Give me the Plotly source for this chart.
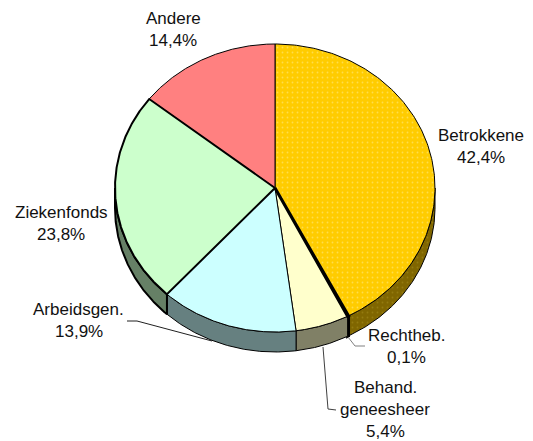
import numpy as np
import plotly.graph_objects as go

categories = ["Betrokkene", "Rechtheb.", "Behand. geneesheer", "Arbeidsgen.", "Ziekenfonds", "Andere"]
values = [42.4, 0.1, 5.4, 13.9, 23.8, 14.4]
top_colors = ["#FFCC00", "#000000", "#FFFFCC", "#CCFFFF", "#CCFFCC", "#FF8080"]
side_colors = ["#806600", "#000000", "#808066", "#668080", "#668066", "#804040"]
outline_widths = [1, 3, 1, 1, 2, 1]

label_lines = [["Betrokkene"], ["Rechtheb."], ["Behand.", "geneesheer"], ["Arbeidsgen."], ["Ziekenfonds"], ["Andere"]]
label_pos = [(481, 135), (406.5, 335), (385, 387), (78.5, 309), (61, 212), (173, 18)]
LINE_H = 22

leaders = {
    "Rechtheb.": ([348, 355, 365], [337, 346, 346], "#808080"),
    "Behand. geneesheer": ([323, 328, 336], [347, 409, 410], "#404040"),
    "Arbeidsgen.": ([127, 137, 212], [321, 321, 341], "#202020"),
}

CX, CY, RX, RY, DEPTH = 275, 188, 160, 144, 20


def pt(frac):
    a = 2 * np.pi * np.asarray(frac)
    return CX + RX * np.sin(a), CY - RY * np.cos(a)


fig = go.Figure()
edges = np.cumsum([0] + values) / sum(values)

# side wall: only the front half of the disc is visible
for i, name in enumerate(categories):
    a, b = max(edges[i], 0.25), min(edges[i + 1], 0.75)
    if b <= a:
        continue
    fr = np.linspace(a, b, 120)
    x, y = pt(fr)
    px = np.r_[x, x[::-1], x[0]]
    py = np.r_[y, y[::-1] + DEPTH, y[0]]
    kw = {}
    if i == 0:
        kw["fillpattern"] = dict(shape=".", fgcolor="#A89020", bgcolor=side_colors[i], size=5, solidity=0.1)
    fig.add_trace(go.Scatter(x=px, y=py, mode="lines", fill="toself", fillcolor=side_colors[i],
                             line=dict(color="black", width=outline_widths[i]), hoverinfo="skip", **kw))

# top face
for i in [0, 2, 3, 5, 4, 1]:
    fr = np.linspace(edges[i], edges[i + 1], 200)
    x, y = pt(fr)
    px = np.r_[CX, x, CX]
    py = np.r_[CY, y, CY]
    kw = {}
    if i == 0:
        kw["fillpattern"] = dict(shape=".", fgcolor="#FFEE99", bgcolor=top_colors[i], size=5, solidity=0.1)
    fig.add_trace(go.Scatter(x=px, y=py, mode="lines", fill="toself", fillcolor=top_colors[i],
                             line=dict(color="black", width=outline_widths[i]), name=categories[i],
                             hoverinfo="skip", **kw))

# leader lines
for name, (lx, ly, col) in leaders.items():
    fig.add_trace(go.Scatter(x=lx, y=ly, mode="lines", line=dict(color=col, width=1), hoverinfo="skip"))

# labels
font = dict(family="Liberation Sans, Arial, sans-serif", size=17, color="#111111")
for lines, v, (lx, ly) in zip(label_lines, values, label_pos):
    texts = lines + [f"{v:.1f}%".replace(".", ",")]
    for k, t in enumerate(texts):
        fig.add_annotation(x=lx, y=ly + k * LINE_H, text=t, showarrow=False, font=font,
                           xanchor="center", yanchor="middle")

fig.update_layout(
    width=533, height=441, margin=dict(l=0, r=0, t=0, b=0),
    paper_bgcolor="white", plot_bgcolor="white", showlegend=False,
    xaxis=dict(range=[0, 533], visible=False, fixedrange=True),
    yaxis=dict(range=[441, 0], visible=False, fixedrange=True),
)
fig.write_html("out.html", config={"displayModeBar": False},
               post_script="document.body.style.margin='0';document.body.style.overflow='hidden';")
